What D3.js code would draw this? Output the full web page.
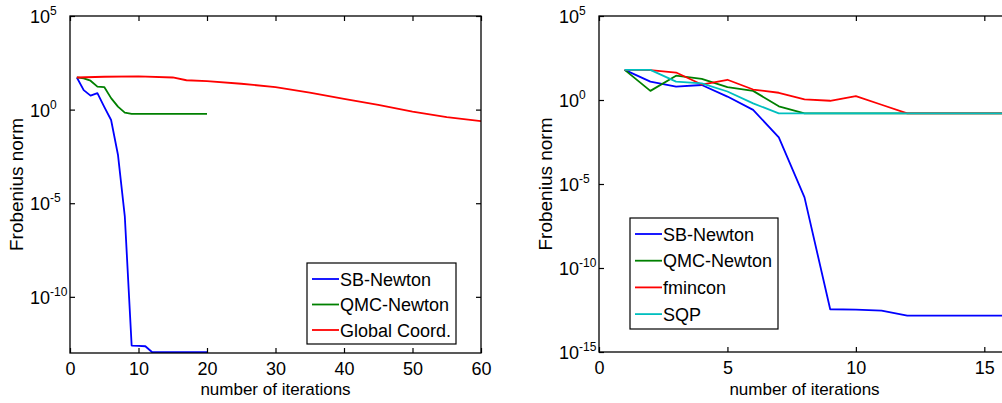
<!DOCTYPE html>
<html>
  <head>
    <meta charset="utf-8">
    <title>Frobenius norm vs number of iterations</title>
    <script src="https://cdn.jsdelivr.net/npm/d3@7"></script>
    <style>
      body { margin: 0; background: #fff; }
      svg { display: block; }
    </style>
  </head>
  <body>
    <svg></svg>
    <script>
      // ---- left panel data ----
      let leftSbIter = [1, 2, 3, 4, 5, 6, 7, 8, 9, 10, 11, 12, 20];
      let leftSbNorm = [52, 11, 5.6, 7.6, 1.4, 0.28, 3.9e-3, 2e-6, 2.5e-13, 2.4e-13, 2.3e-13, 1.1e-13, 1.1e-13];

      let leftQmcIter = [1, 2, 3, 4, 5, 6, 7, 8, 9, 20];
      let leftQmcNorm = [52, 46, 35, 17, 16, 4.1, 1.45, 0.69, 0.59, 0.59];

      let leftGlobalIter = [1, 5, 10, 15, 17, 20, 25, 30, 35, 40, 45, 50, 55, 60];
      let leftGlobalNorm = [52, 57, 60, 52, 37, 33, 24, 16, 8.1, 3.7, 1.8, 0.79, 0.4, 0.24];

      let leftXTicks = [0, 10, 20, 30, 40, 50, 60];
      let leftYTicks = [5, 0, -5, -10];   // exponents of 10

      // ---- right panel data ----
      let rightIter = [1, 2, 3, 4, 5, 6, 7, 8, 9, 10, 11, 12, 13, 14, 15, 16];
      let rightSbNorm = [62, 12.3, 6.2, 7.8, 1.6, 0.26, 6e-3, 1.6e-6, 3.5e-13, 3.3e-13, 2.9e-13,
                         1.45e-13, 1.45e-13, 1.45e-13, 1.45e-13, 1.45e-13];
      let rightQmcNorm = [62, 3.5, 28, 18, 5.8, 3.5, 0.42, 0.16, 0.16, 0.16, 0.16, 0.16, 0.16, 0.16, 0.16, 0.16];
      let rightFminconNorm = [62, 60, 43, 8.3, 16, 4.2, 2.7, 1.1, 0.9, 1.7, 0.52, 0.16, 0.16, 0.16, 0.16, 0.16];
      let rightSqpNorm = [62, 62, 12.3, 9.8, 3.2, 0.63, 0.16, 0.16, 0.16, 0.16, 0.16, 0.16, 0.16, 0.16, 0.16, 0.16];

      let rightXTicks = [0, 5, 10, 15];
      let rightYTicks = [5, 0, -5, -10, -15];

      let fontFamily = `"Liberation Sans", Arial, sans-serif`;
      let w = 1002, h = 403;

      let svg = d3.select("svg")
                  .attr("width", w)
                  .attr("height", h)
                  .style("font-family", fontFamily);

      function drawPanel(p) {
        let x = d3.scaleLinear().domain(p.xDomain).range([p.left, p.right]);
        let y = d3.scaleLog().domain(p.yDomain).range([p.bottom, p.top]);

        let g = svg.append("g");

        //clip for the curves
        g.append("clipPath")
         .attr("id", p.id + "-clip")
         .append("rect")
         .attr("x", p.left)
         .attr("y", p.top)
         .attr("width", p.right - p.left)
         .attr("height", p.bottom - p.top);

        let line = d3.line()
                     .x(d => x(d[0]))
                     .y(d => y(d[1]));

        p.series.forEach(s => {
          g.append("path")
           .datum(d3.zip(s.iter, s.norm))
           .attr("clip-path", `url(#${p.id}-clip)`)
           .attr("fill", "none")
           .attr("stroke", s.color)
           .attr("stroke-width", 1.8)
           .attr("stroke-linejoin", "round")
           .attr("d", line);
        });

        //ticks pointing inward on all four sides
        let yTickVals = p.yTicks.map(e => Math.pow(10, e));

        g.append("g")
         .attr("transform", `translate(0,${p.bottom})`)
         .call(d3.axisBottom(x).tickValues(p.xTicks).tickSize(-5).tickPadding(9))
         .call(a => a.select(".domain").remove())
         .selectAll("text")
         .attr("font-size", 18)
         .attr("font-family", fontFamily)
         .attr("fill", "#000");

        g.append("g")
         .attr("transform", `translate(0,${p.top})`)
         .call(d3.axisTop(x).tickValues(p.xTicks).tickSize(-5).tickFormat(""))
         .call(a => a.select(".domain").remove());

        g.append("g")
         .attr("transform", `translate(${p.left},0)`)
         .call(d3.axisLeft(y).tickValues(yTickVals).tickSize(-5).tickFormat(""))
         .call(a => a.select(".domain").remove());

        g.append("g")
         .attr("transform", `translate(${p.right},0)`)
         .call(d3.axisRight(y).tickValues(yTickVals).tickSize(-5).tickFormat(""))
         .call(a => a.select(".domain").remove());

        g.selectAll(".tick line")
         .attr("stroke", "#000")
         .attr("stroke-width", 1.2);

        //box
        g.append("rect")
         .attr("x", p.left)
         .attr("y", p.top)
         .attr("width", p.right - p.left)
         .attr("height", p.bottom - p.top)
         .attr("fill", "none")
         .attr("stroke", "#000")
         .attr("stroke-width", 1.3);

        //y tick labels 10^e
        let yLabels = g.selectAll(".ylab")
                       .data(p.yTicks)
                       .enter()
                       .append("text")
                       .attr("class", "ylab")
                       .attr("x", p.left - 40)
                       .attr("y", e => y(Math.pow(10, e)) + 7)
                       .attr("font-size", 18)
                       .text("10");

        yLabels.append("tspan")
               .attr("dy", -8)
               .attr("font-size", 12)
               .text(e => e < 0 ? "-" + (-e) : String(e));

        //axis labels
        g.append("text")
         .attr("x", (p.left + p.right) / 2)
         .attr("y", 394.5)
         .attr("text-anchor", "middle")
         .attr("font-size", 17)
         .text("number of iterations");

        g.append("text")
         .attr("transform", `translate(${p.left - 47},${(p.top + p.bottom) / 2}) rotate(-90)`)
         .attr("text-anchor", "middle")
         .attr("font-size", 19)
         .text("Frobenius norm");

        //legend
        let lg = p.legend;
        g.append("rect")
         .attr("x", lg.x)
         .attr("y", lg.y)
         .attr("width", lg.w)
         .attr("height", lg.h)
         .attr("fill", "#fff")
         .attr("stroke", "#000")
         .attr("stroke-width", 1.2);

        p.series.forEach((s, i) => {
          let ly = lg.y + lg.first + i * lg.step;
          g.append("line")
           .attr("x1", lg.x + 5)
           .attr("x2", lg.x + 32)
           .attr("y1", ly)
           .attr("y2", ly)
           .attr("stroke", s.color)
           .attr("stroke-width", 1.8);
          g.append("text")
           .attr("x", lg.x + 33)
           .attr("y", ly + 6.5)
           .attr("font-size", 18)
           .text(s.name);
        });
      }

      drawPanel({
        id: "left",
        left: 70, right: 481, top: 16, bottom: 353,
        xDomain: [0, 60], yDomain: [1e-13, 1e5],
        xTicks: leftXTicks, yTicks: leftYTicks,
        series: [
          {name: "SB-Newton", color: "#0000ff", iter: leftSbIter, norm: leftSbNorm},
          {name: "QMC-Newton", color: "#008000", iter: leftQmcIter, norm: leftQmcNorm},
          {name: "Global Coord.", color: "#ff0000", iter: leftGlobalIter, norm: leftGlobalNorm}
        ],
        legend: {x: 307, y: 263, w: 149, h: 81, first: 16, step: 25.5}
      });

      drawPanel({
        id: "right",
        left: 599, right: 1010, top: 16, bottom: 352,
        xDomain: [0, 16], yDomain: [1e-15, 1e5],
        xTicks: rightXTicks, yTicks: rightYTicks,
        series: [
          {name: "SB-Newton", color: "#0000ff", iter: rightIter, norm: rightSbNorm},
          {name: "QMC-Newton", color: "#008000", iter: rightIter, norm: rightQmcNorm},
          {name: "fmincon", color: "#ff0000", iter: rightIter, norm: rightFminconNorm},
          {name: "SQP", color: "#00bfbf", iter: rightIter, norm: rightSqpNorm}
        ],
        legend: {x: 630, y: 218, w: 148, h: 111, first: 16, step: 26.7}
      });
    </script>
  </body>
</html>
